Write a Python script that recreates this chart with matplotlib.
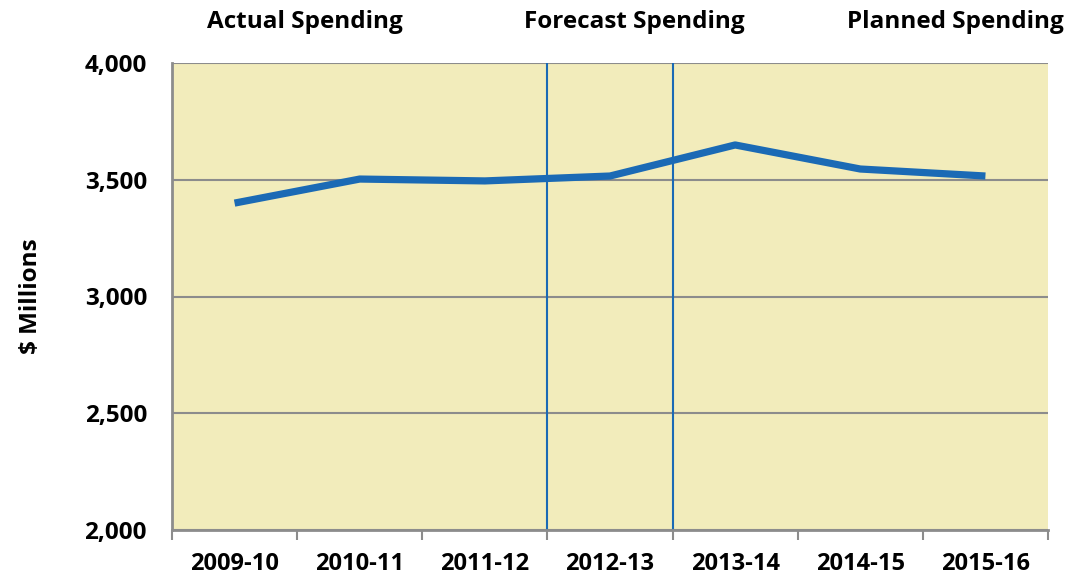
import matplotlib
matplotlib.use('Agg')

import numpy as np
import matplotlib.pyplot as plt

# Data
years = ['2009-10', '2010-11', '2011-12', '2012-13', '2013-14', '2014-15', '2015-16']
spending = [3400, 3503, 3495, 3516, 3649, 3546, 3516]
y_ticks = [2000, 2500, 3000, 3500, 4000]
phases = ['Actual Spending', 'Forecast Spending', 'Planned Spending']

plt.rcParams['font.family'] = ['Open Sans', 'DejaVu Sans']
plt.rcParams['font.weight'] = 'bold'

fig = plt.figure(figsize=(10.67, 5.78), dpi=100)
ax = fig.add_axes([172 / 1067, 48 / 578, 876 / 1067, 467 / 578])

grey = '#8c8c8c'
blue = '#1b6ab5'
ax.set_facecolor('#f2ecbb')

x = np.arange(len(years))
ax.plot(x, spending, color=blue, lw=5.2, solid_capstyle='butt', zorder=3)

# phase dividers
for xv in [2.5, 3.5]:
    ax.axvline(xv, color=blue, lw=1.5, zorder=2)

ax.set_xlim(-0.5, len(years) - 0.5)
ax.set_ylim(2000, 4000)
ax.set_yticks(y_ticks)
ax.set_yticklabels([f'{v:,}' for v in y_ticks], fontsize=17.5, fontweight='bold')
ax.yaxis.grid(True, color=grey, lw=1.5)
ax.set_axisbelow(True)
ax.tick_params(axis='y', length=0, pad=18)

ax.set_xticks(x)
ax.set_xticklabels(years, fontsize=17, fontweight='bold')
ax.set_xticks(np.arange(len(years) + 1) - 0.5, minor=True)
ax.tick_params(axis='x', which='major', length=0, pad=16)
ax.tick_params(axis='x', which='minor', length=7, width=1.5, color=grey)

for s in ['top', 'right']:
    ax.spines[s].set_visible(False)
for s in ['left', 'bottom']:
    ax.spines[s].set_color(grey)
    ax.spines[s].set_linewidth(2)

ax.set_ylabel('$ Millions', fontsize=17.5, fontweight='bold', labelpad=30)

# phase labels above the plot
for px, label in zip([305 / 1067, 634 / 1067, 955 / 1067], phases):
    fig.text(px, 1 - 22 / 578, label, ha='center', va='center', fontsize=17.5, fontweight='bold')

plt.savefig('out.png', dpi=100)
